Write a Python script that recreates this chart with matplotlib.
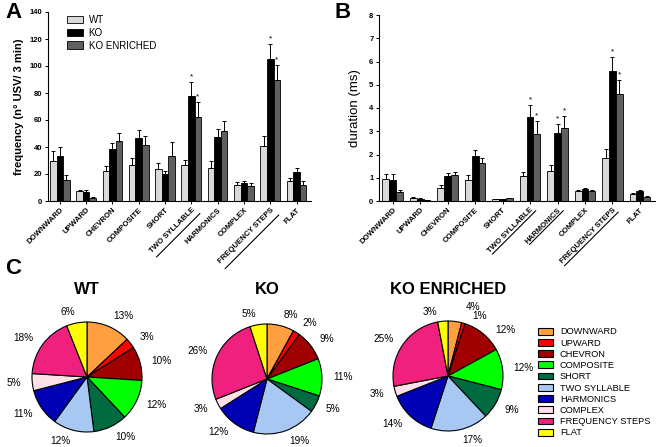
import numpy as np
import matplotlib
matplotlib.use("Agg")
import matplotlib.pyplot as plt
from matplotlib.patches import Patch
from matplotlib.lines import Line2D

plt.rcParams["font.family"] = ["Liberation Sans", "DejaVu Sans"]

categories = ["DOWNWARD", "UPWARD", "CHEVRON", "COMPOSITE", "SHORT",
              "TWO SYLLABLE", "HARMONICS", "COMPLEX", "FREQUENCY STEPS", "FLAT"]
groups = ["WT", "KO", "KO ENRICHED"]

# panel A: frequency (n USV / 3 min), mean and SEM
freq_wt = [30, 7.5, 22, 27, 24, 26.5, 24.5, 12, 41, 15]
freq_ko = [33, 7, 38.5, 46.5, 20, 78, 47.5, 13.5, 105.5, 21.5]
freq_koe = [15.5, 2.5, 44.5, 41.5, 33.5, 62.5, 52, 11, 89.5, 12]
freq_wt_err = [7, 1, 4, 5, 4.5, 4, 5, 2, 7, 2]
freq_ko_err = [7, 1, 4.5, 6, 2, 10, 6, 1.5, 11, 3]
freq_koe_err = [3.5, 0.5, 6, 6.5, 10, 11, 7.5, 2, 11.5, 2.5]
freq_stars = [("KO", 5), ("KO ENRICHED", 5), ("KO", 8), ("KO ENRICHED", 8)]
freq_underlined = ["TWO SYLLABLE", "FREQUENCY STEPS"]

# panel B: duration (ms)
dur_wt = [0.93, 0.15, 0.57, 0.92, 0.08, 1.07, 1.28, 0.44, 1.87, 0.3]
dur_ko = [0.9, 0.1, 1.08, 1.95, 0.07, 3.63, 2.92, 0.5, 5.6, 0.42]
dur_koe = [0.38, 0.04, 1.1, 1.62, 0.12, 2.9, 3.13, 0.43, 4.6, 0.18]
dur_wt_err = [0.25, 0.03, 0.1, 0.18, 0.02, 0.17, 0.25, 0.05, 0.37, 0.05]
dur_ko_err = [0.25, 0.02, 0.12, 0.25, 0.01, 0.5, 0.38, 0.04, 0.6, 0.05]
dur_koe_err = [0.08, 0.01, 0.15, 0.25, 0.03, 0.55, 0.52, 0.06, 0.6, 0.04]
dur_stars = [("KO", 5), ("KO ENRICHED", 5), ("KO", 6), ("KO ENRICHED", 6),
             ("KO", 8), ("KO ENRICHED", 8)]
dur_underlined = ["TWO SYLLABLE", "HARMONICS", "FREQUENCY STEPS"]

# panel C: share of each call type (%)
pie_wt = [13, 3, 10, 12, 10, 12, 11, 5, 18, 6]
pie_ko = [8, 2, 9, 11, 5, 19, 12, 3, 26, 5]
pie_koe = [4, 1, 12, 12, 9, 17, 14, 3, 25, 3]

bar_colors = {"WT": "#d9d9d9", "KO": "#000000", "KO ENRICHED": "#5f5f5f"}
pie_colors = ["#ff9f40", "#ff0000", "#a00000", "#00ff00", "#006a40",
              "#a6c8f2", "#0000b4", "#ffe0e6", "#f0207f", "#ffff00"]

W, H = 658, 447
fig = plt.figure(figsize=(W / 100, H / 100), dpi=100)


def px_axes(x0, y0, x1, y1):
    # pixel box (top-left origin) -> figure axes
    return fig.add_axes([x0 / W, 1 - y1 / H, (x1 - x0) / W, (y1 - y0) / H])


def bar_panel(ax, vals, errs, stars, underlined, ylim, yticks, xlim, ul_gap):
    x = np.arange(len(categories))
    bw = 0.25
    for i, g in enumerate(groups):
        pos = x + (i - 1) * bw
        ax.bar(pos, vals[i], bw, color=bar_colors[g], edgecolor="black",
               linewidth=0.6, label=g, zorder=2)
        ax.errorbar(pos, vals[i], yerr=[np.zeros(len(x)), errs[i]], fmt="none",
                    ecolor="black", elinewidth=0.7, capsize=1.5, capthick=0.7,
                    zorder=3)
    for g, k in stars:
        i = groups.index(g)
        top = vals[i][k] + errs[i][k]
        ax.text(k + (i - 1) * bw, top + ylim[1] * 0.008, "*", ha="center",
                va="bottom", fontsize=6)
    ax.set_xlim(*xlim)
    ax.set_ylim(*ylim)
    ax.set_yticks(yticks)
    ax.set_xticks(x)
    ax.set_xticklabels(categories, rotation=45, ha="right",
                       rotation_mode="anchor", fontsize=5.6, fontweight="bold")
    ax.tick_params(axis="both", length=2.5, width=0.7, pad=1.5)
    ax.tick_params(axis="y", labelsize=5.5)
    for lab in ax.get_yticklabels():
        lab.set_fontweight("bold")
    for s in ["top", "right"]:
        ax.spines[s].set_visible(False)
    for s in ["left", "bottom"]:
        ax.spines[s].set_linewidth(0.8)
    ax._underlined = (underlined, ul_gap)


axA = px_axes(48, 12, 311, 201)
bar_panel(axA, [freq_wt, freq_ko, freq_koe],
          [freq_wt_err, freq_ko_err, freq_koe_err], freq_stars,
          freq_underlined, (0, 140), range(0, 141, 20), (-0.45, 9.55), 5)
axA.set_ylabel("frequency (n\u00b0 USV/ 3 min)", fontsize=8, fontweight="bold",
               labelpad=4)
axA.legend(loc="upper left", bbox_to_anchor=(0.04, 1.03), frameon=False,
           fontsize=7, handlelength=1.6, handleheight=0.8, labelspacing=0.28,
           handletextpad=0.6)

axB = px_axes(379, 15, 655, 201)
bar_panel(axB, [dur_wt, dur_ko, dur_koe],
          [dur_wt_err, dur_ko_err, dur_koe_err], dur_stars,
          dur_underlined, (0, 8), range(0, 9), (-0.5, 9.55), 1)
axB.set_ylabel("duration (ms)", fontsize=9.5, labelpad=6)

fig.text(5 / W, 1 - 18 / H, "A", fontsize=16, fontweight="bold")
fig.text(334 / W, 1 - 18 / H, "B", fontsize=16, fontweight="bold")
fig.text(5 / W, 1 - 274 / H, "C", fontsize=16, fontweight="bold")

# underline selected tick labels (drawn parallel to the rotated text)
fig.canvas.draw()
renderer = fig.canvas.get_renderer()
u = np.array([np.cos(np.pi / 4), np.sin(np.pi / 4)])
down = np.array([u[1], -u[0]])
for ax in (axA, axB):
    names, gap = ax._underlined
    for lab in ax.get_xticklabels():
        if lab.get_text() not in names:
            continue
        wpx, hpx, _ = renderer.get_text_width_height_descent(
            lab.get_text(), lab.get_fontproperties(), ismath=False)
        ext = lab.get_window_extent(renderer)
        # top-right corner of the rotated text box
        tr = np.array([ext.x1 - hpx * down[0], ext.y1])
        p1 = tr + down * (hpx + gap)
        p0 = p1 - u * wpx
        pts = fig.transFigure.inverted().transform(np.vstack([p0, p1]))
        fig.add_artist(Line2D(pts[:, 0], pts[:, 1], color="black",
                              linewidth=0.8, transform=fig.transFigure))

# pies; nudge = {slice: (clockwise shift in degrees, label distance)}
r = 55
pies = [("WT", pie_wt, 87, 377, 290, {}),
        ("KO", pie_ko, 267, 379, 289, {}),
        ("KO ENRICHED", pie_koe, 448, 376, 289,
         {0: (7, 1.3), 1: (6, 1.18), 2: (6, 1.2), 9: (-4, 1.18)})]
for title, vals, cx, cy, ty, nudge in pies:
    ax = px_axes(cx - r, cy - r, cx + r, cy + r)
    wedges, texts = ax.pie(vals, colors=pie_colors, startangle=90,
                           counterclock=False,
                           labels=[f"{v}%" for v in vals], labeldistance=1.2,
                           wedgeprops=dict(edgecolor="black", linewidth=0.8),
                           textprops=dict(fontsize=7.2))
    # spread crowded labels of the thin slices a little
    for k, (d, dist) in nudge.items():
        w = wedges[k]
        ang = np.deg2rad((w.theta1 + w.theta2) / 2 - d)
        texts[k].set_position((dist * np.cos(ang), dist * np.sin(ang)))
    ax.set_xlim(-1, 1)
    ax.set_ylim(-1, 1)
    fig.text(cx / W, 1 - ty / H, title, fontsize=12, fontweight="bold",
             ha="center", va="center")

handles = [Patch(facecolor=c, edgecolor="black", linewidth=0.8)
           for c in pie_colors]
fig.legend(handles, categories, loc="upper left",
           bbox_to_anchor=(530 / W, 1 - 319 / H), frameon=False, fontsize=6.7,
           handlelength=1.6, handleheight=0.75, labelspacing=0.24,
           handletextpad=0.7)

fig.savefig("out.png", dpi=100)
